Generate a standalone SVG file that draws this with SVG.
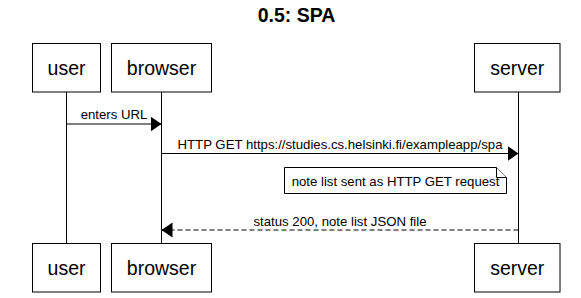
<svg xmlns="http://www.w3.org/2000/svg" width="581" height="298" viewBox="0 0 581 298">
  <style>
    .actor { fill: #ffffff; stroke: #000000; stroke-width: 1; }
    .actor-label { font-family: "Liberation Sans", Arial, sans-serif; font-size: 19.5px; fill: #000000; text-anchor: middle; }
    .lifeline { stroke: #000000; stroke-width: 1; fill: none; }
    .msg { stroke: #000000; stroke-width: 1; fill: none; }
    .msg-dashed { stroke-dasharray: 5 3; }
    .msg-label { font-family: "Liberation Sans", Arial, sans-serif; font-size: 13.2px; fill: #000000; text-anchor: middle; }
    .note { fill: #ffffff; stroke: #000000; stroke-width: 1; }
    .title { font-family: "Liberation Sans", Arial, sans-serif; font-size: 19.5px; font-weight: bold; fill: #000000; text-anchor: middle; }
  </style>
  <defs>
    <marker id="arrowhead" markerUnits="userSpaceOnUse" markerWidth="12" markerHeight="16" refX="11" refY="7.5" orient="auto">
      <path d="M 0 0 L 11 7.5 L 0 15 z" fill="#000000"/>
    </marker>
  </defs>

  <rect width="581" height="298" fill="#ffffff"/>

  <text class="title" x="296.5" y="21.5">0.5: SPA</text>

  <!-- lifelines -->
  <g id="lifelines">
    <line class="lifeline" x1="66.5" y1="92" x2="66.5" y2="243.5"/>
    <line class="lifeline" x1="161.5" y1="92" x2="161.5" y2="243.5"/>
    <line class="lifeline" x1="518.5" y1="92" x2="518.5" y2="243.5"/>
  </g>

  <!-- participants, top -->
  <g id="user-top">
    <rect class="actor" x="32.5" y="43.5" width="68" height="48.5"/>
    <text class="actor-label" x="66.5" y="75">user</text>
  </g>
  <g id="browser-top">
    <rect class="actor" x="111.5" y="43.5" width="100" height="48.5"/>
    <text class="actor-label" x="161.5" y="75">browser</text>
  </g>
  <g id="server-top">
    <rect class="actor" x="474.5" y="43.5" width="85.5" height="48.5"/>
    <text class="actor-label" x="517.25" y="75">server</text>
  </g>

  <!-- participants, bottom -->
  <g id="user-bottom">
    <rect class="actor" x="32.5" y="243.5" width="68" height="48.5"/>
    <text class="actor-label" x="66.5" y="275">user</text>
  </g>
  <g id="browser-bottom">
    <rect class="actor" x="111.5" y="243.5" width="100" height="48.5"/>
    <text class="actor-label" x="161.5" y="275">browser</text>
  </g>
  <g id="server-bottom">
    <rect class="actor" x="474.5" y="243.5" width="85.5" height="48.5"/>
    <text class="actor-label" x="517.25" y="275">server</text>
  </g>

  <!-- messages -->
  <g id="connectors">
    <line class="msg" x1="66.5" y1="124" x2="161.5" y2="124" marker-end="url(#arrowhead)"/>
    <text class="msg-label" x="114" y="118.5">enters URL</text>

    <line class="msg" x1="161.5" y1="153.5" x2="518.5" y2="153.5" marker-end="url(#arrowhead)"/>
    <text class="msg-label" x="340" y="149">HTTP GET https://studies.cs.helsinki.fi/exampleapp/spa</text>

    <line class="msg msg-dashed" x1="518.5" y1="230" x2="161.5" y2="230" marker-end="url(#arrowhead)"/>
    <text class="msg-label" x="340" y="225.5">status 200, note list JSON file</text>
  </g>

  <!-- note beside server -->
  <g id="note">
    <path class="note" d="M 284.5 167.5 L 496.5 167.5 L 506.5 177.5 L 506.5 193.5 L 284.5 193.5 Z"/>
    <path class="note" d="M 496.5 167.5 L 496.5 177.5 L 506.5 177.5"/>
    <text class="msg-label" x="395.5" y="185.5">note list sent as HTTP GET request</text>
  </g>
</svg>
